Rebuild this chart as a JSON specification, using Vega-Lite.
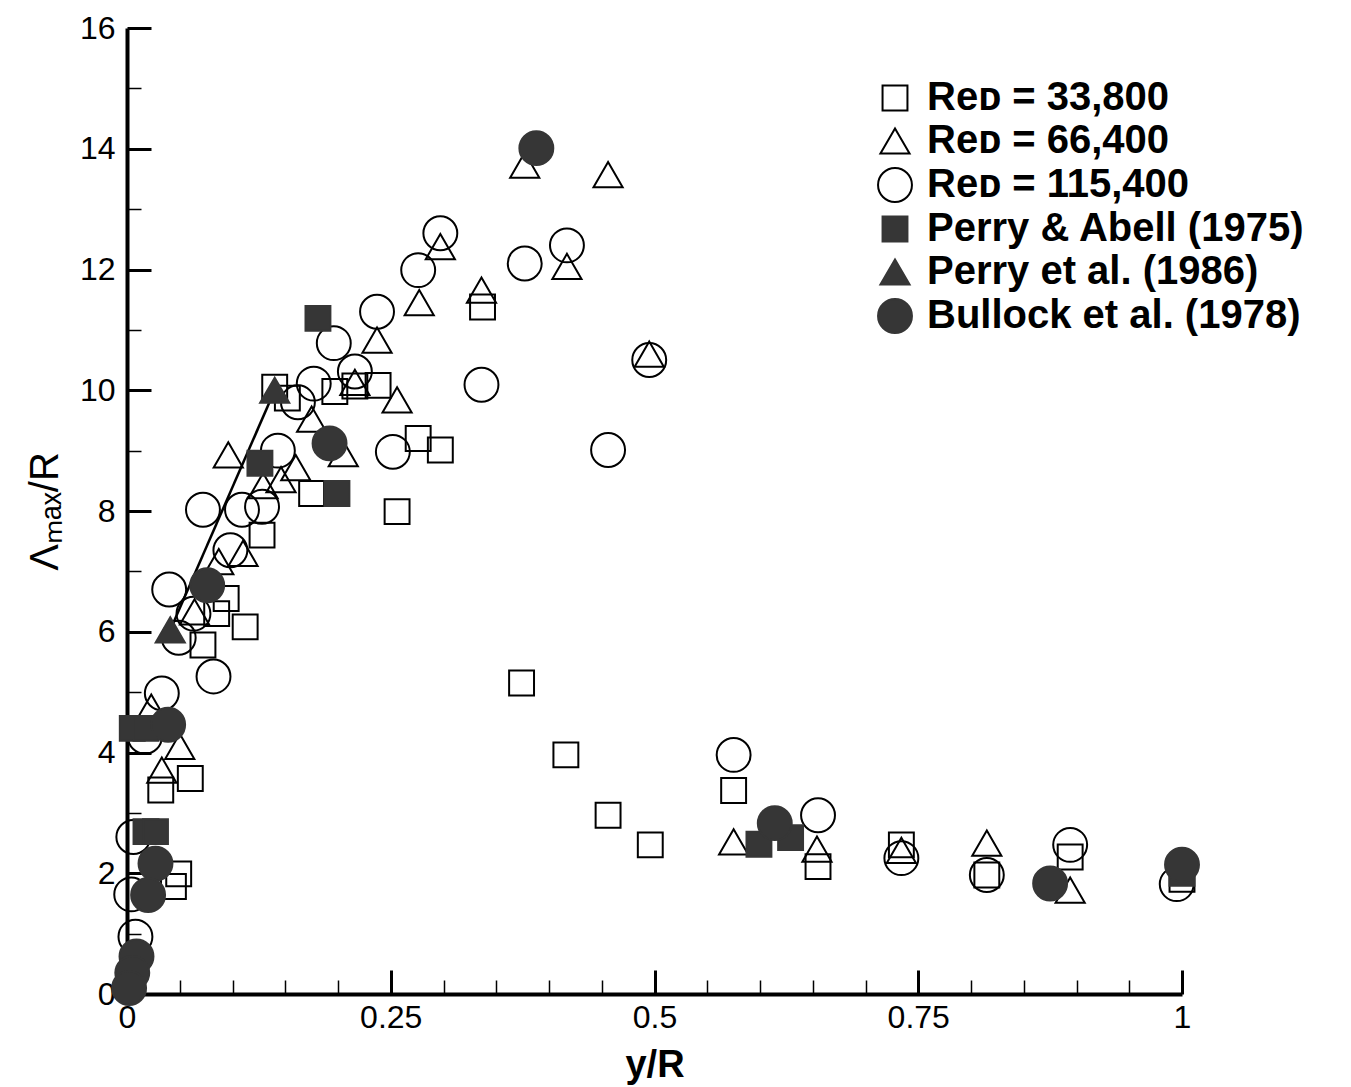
{
  "$schema": "https://vega.github.io/schema/vega-lite/v6.json",
  "width": 1055,
  "height": 966,
  "autosize": {"type": "none"},
  "padding": {"left": 127, "top": 28, "right": 169, "bottom": 93},
  "background": "white",
  "config": {"view": {"stroke": null}, "font": "Liberation Sans"},
  "datasets": {
    "fit": [{"x": 0.041, "y": 6.03}, {"x": 0.14, "y": 10.0}],
    "points": [
      {"x": 0.032, "y": 3.38, "s": "Reᴅ = 33,800"},
      {"x": 0.060, "y": 3.57, "s": "Reᴅ = 33,800"},
      {"x": 0.049, "y": 1.99, "s": "Reᴅ = 33,800"},
      {"x": 0.044, "y": 1.78, "s": "Reᴅ = 33,800"},
      {"x": 0.072, "y": 5.78, "s": "Reᴅ = 33,800"},
      {"x": 0.085, "y": 6.30, "s": "Reᴅ = 33,800"},
      {"x": 0.094, "y": 6.55, "s": "Reᴅ = 33,800"},
      {"x": 0.112, "y": 6.08, "s": "Reᴅ = 33,800"},
      {"x": 0.128, "y": 7.60, "s": "Reᴅ = 33,800"},
      {"x": 0.140, "y": 10.05, "s": "Reᴅ = 33,800"},
      {"x": 0.152, "y": 9.87, "s": "Reᴅ = 33,800"},
      {"x": 0.175, "y": 8.29, "s": "Reᴅ = 33,800"},
      {"x": 0.197, "y": 9.98, "s": "Reᴅ = 33,800"},
      {"x": 0.216, "y": 10.07, "s": "Reᴅ = 33,800"},
      {"x": 0.238, "y": 10.08, "s": "Reᴅ = 33,800"},
      {"x": 0.256, "y": 7.99, "s": "Reᴅ = 33,800"},
      {"x": 0.276, "y": 9.20, "s": "Reᴅ = 33,800"},
      {"x": 0.297, "y": 9.01, "s": "Reᴅ = 33,800"},
      {"x": 0.337, "y": 11.38, "s": "Reᴅ = 33,800"},
      {"x": 0.374, "y": 5.15, "s": "Reᴅ = 33,800"},
      {"x": 0.416, "y": 3.96, "s": "Reᴅ = 33,800"},
      {"x": 0.456, "y": 2.96, "s": "Reᴅ = 33,800"},
      {"x": 0.496, "y": 2.47, "s": "Reᴅ = 33,800"},
      {"x": 0.575, "y": 3.37, "s": "Reᴅ = 33,800"},
      {"x": 0.655, "y": 2.11, "s": "Reᴅ = 33,800"},
      {"x": 0.734, "y": 2.47, "s": "Reᴅ = 33,800"},
      {"x": 0.815, "y": 1.97, "s": "Reᴅ = 33,800"},
      {"x": 0.894, "y": 2.27, "s": "Reᴅ = 33,800"},
      {"x": 1.0, "y": 1.90, "s": "Reᴅ = 33,800"},

      {"x": 0.023, "y": 4.75, "s": "Reᴅ = 66,400"},
      {"x": 0.033, "y": 3.71, "s": "Reᴅ = 66,400"},
      {"x": 0.050, "y": 4.10, "s": "Reᴅ = 66,400"},
      {"x": 0.064, "y": 6.33, "s": "Reᴅ = 66,400"},
      {"x": 0.087, "y": 7.16, "s": "Reᴅ = 66,400"},
      {"x": 0.110, "y": 7.30, "s": "Reᴅ = 66,400"},
      {"x": 0.096, "y": 8.93, "s": "Reᴅ = 66,400"},
      {"x": 0.129, "y": 8.42, "s": "Reᴅ = 66,400"},
      {"x": 0.146, "y": 8.52, "s": "Reᴅ = 66,400"},
      {"x": 0.160, "y": 8.72, "s": "Reᴅ = 66,400"},
      {"x": 0.175, "y": 9.52, "s": "Reᴅ = 66,400"},
      {"x": 0.205, "y": 8.95, "s": "Reᴅ = 66,400"},
      {"x": 0.216, "y": 10.13, "s": "Reᴅ = 66,400"},
      {"x": 0.237, "y": 10.83, "s": "Reᴅ = 66,400"},
      {"x": 0.256, "y": 9.84, "s": "Reᴅ = 66,400"},
      {"x": 0.277, "y": 11.45, "s": "Reᴅ = 66,400"},
      {"x": 0.297, "y": 12.38, "s": "Reᴅ = 66,400"},
      {"x": 0.336, "y": 11.66, "s": "Reᴅ = 66,400"},
      {"x": 0.377, "y": 13.73, "s": "Reᴅ = 66,400"},
      {"x": 0.417, "y": 12.05, "s": "Reᴅ = 66,400"},
      {"x": 0.456, "y": 13.57, "s": "Reᴅ = 66,400"},
      {"x": 0.495, "y": 10.60, "s": "Reᴅ = 66,400"},
      {"x": 0.575, "y": 2.52, "s": "Reᴅ = 66,400"},
      {"x": 0.654, "y": 2.40, "s": "Reᴅ = 66,400"},
      {"x": 0.734, "y": 2.38, "s": "Reᴅ = 66,400"},
      {"x": 0.815, "y": 2.50, "s": "Reᴅ = 66,400"},
      {"x": 0.894, "y": 1.72, "s": "Reᴅ = 66,400"},

      {"x": 0.008, "y": 0.95, "s": "Reᴅ = 115,400"},
      {"x": 0.004, "y": 1.65, "s": "Reᴅ = 115,400"},
      {"x": 0.006, "y": 2.60, "s": "Reᴅ = 115,400"},
      {"x": 0.017, "y": 4.26, "s": "Reᴅ = 115,400"},
      {"x": 0.033, "y": 4.98, "s": "Reᴅ = 115,400"},
      {"x": 0.082, "y": 5.26, "s": "Reᴅ = 115,400"},
      {"x": 0.049, "y": 5.90, "s": "Reᴅ = 115,400"},
      {"x": 0.063, "y": 6.30, "s": "Reᴅ = 115,400"},
      {"x": 0.040, "y": 6.70, "s": "Reᴅ = 115,400"},
      {"x": 0.072, "y": 8.02, "s": "Reᴅ = 115,400"},
      {"x": 0.098, "y": 7.35, "s": "Reᴅ = 115,400"},
      {"x": 0.109, "y": 8.02, "s": "Reᴅ = 115,400"},
      {"x": 0.128, "y": 8.07, "s": "Reᴅ = 115,400"},
      {"x": 0.143, "y": 9.00, "s": "Reᴅ = 115,400"},
      {"x": 0.162, "y": 9.80, "s": "Reᴅ = 115,400"},
      {"x": 0.177, "y": 10.11, "s": "Reᴅ = 115,400"},
      {"x": 0.196, "y": 10.78, "s": "Reᴅ = 115,400"},
      {"x": 0.216, "y": 10.31, "s": "Reᴅ = 115,400"},
      {"x": 0.237, "y": 11.30, "s": "Reᴅ = 115,400"},
      {"x": 0.252, "y": 8.98, "s": "Reᴅ = 115,400"},
      {"x": 0.276, "y": 11.99, "s": "Reᴅ = 115,400"},
      {"x": 0.297, "y": 12.60, "s": "Reᴅ = 115,400"},
      {"x": 0.336, "y": 10.09, "s": "Reᴅ = 115,400"},
      {"x": 0.377, "y": 12.10, "s": "Reᴅ = 115,400"},
      {"x": 0.417, "y": 12.40, "s": "Reᴅ = 115,400"},
      {"x": 0.456, "y": 9.01, "s": "Reᴅ = 115,400"},
      {"x": 0.495, "y": 10.50, "s": "Reᴅ = 115,400"},
      {"x": 0.575, "y": 3.96, "s": "Reᴅ = 115,400"},
      {"x": 0.655, "y": 2.96, "s": "Reᴅ = 115,400"},
      {"x": 0.734, "y": 2.25, "s": "Reᴅ = 115,400"},
      {"x": 0.815, "y": 1.97, "s": "Reᴅ = 115,400"},
      {"x": 0.894, "y": 2.47, "s": "Reᴅ = 115,400"},
      {"x": 0.995, "y": 1.82, "s": "Reᴅ = 115,400"},

      {"x": 0.005, "y": 4.40, "s": "Perry & Abell (1975)"},
      {"x": 0.018, "y": 4.40, "s": "Perry & Abell (1975)"},
      {"x": 0.018, "y": 2.69, "s": "Perry & Abell (1975)"},
      {"x": 0.027, "y": 2.69, "s": "Perry & Abell (1975)"},
      {"x": 0.126, "y": 8.79, "s": "Perry & Abell (1975)"},
      {"x": 0.181, "y": 11.19, "s": "Perry & Abell (1975)"},
      {"x": 0.199, "y": 8.29, "s": "Perry & Abell (1975)"},
      {"x": 0.599, "y": 2.48, "s": "Perry & Abell (1975)"},
      {"x": 0.629, "y": 2.59, "s": "Perry & Abell (1975)"},
      {"x": 1.0, "y": 2.00, "s": "Perry & Abell (1975)"},

      {"x": 0.041, "y": 6.03, "s": "Perry et al. (1986)"},
      {"x": 0.140, "y": 10.00, "s": "Perry et al. (1986)"},

      {"x": 0.388, "y": 14.01, "s": "Bullock et al. (1978)"},
      {"x": 0.192, "y": 9.12, "s": "Bullock et al. (1978)"},
      {"x": 0.076, "y": 6.77, "s": "Bullock et al. (1978)"},
      {"x": 0.039, "y": 4.46, "s": "Bullock et al. (1978)"},
      {"x": 0.027, "y": 2.16, "s": "Bullock et al. (1978)"},
      {"x": 0.020, "y": 1.64, "s": "Bullock et al. (1978)"},
      {"x": 0.009, "y": 0.62, "s": "Bullock et al. (1978)"},
      {"x": 0.005, "y": 0.35, "s": "Bullock et al. (1978)"},
      {"x": 0.002, "y": 0.10, "s": "Bullock et al. (1978)"},
      {"x": 0.614, "y": 2.83, "s": "Bullock et al. (1978)"},
      {"x": 0.875, "y": 1.83, "s": "Bullock et al. (1978)"},
      {"x": 1.0, "y": 2.14, "s": "Bullock et al. (1978)"}
    ]
  },
  "encoding": {
    "x": {
      "field": "x", "type": "quantitative",
      "scale": {"domain": [0, 1], "nice": false, "zero": false},
      "axis": {
        "title": "y/R",
        "titleFont": "Liberation Sans", "titleFontSize": 38, "titleFontWeight": "bold", "titleColor": "black", "titlePadding": 3,
        "values": [0, 0.05, 0.1, 0.15, 0.2, 0.25, 0.3, 0.35, 0.4, 0.45, 0.5, 0.55, 0.6, 0.65, 0.7, 0.75, 0.8, 0.85, 0.9, 0.95, 1],
        "labelExpr": "abs(datum.value*4 - round(datum.value*4)) < 1e-6 ? ('' + datum.value) : ''",
        "labelFont": "Liberation Sans", "labelFontSize": 32, "labelColor": "black", "labelPadding": 32,
        "labelFlush": false, "labelOverlap": false,
        "grid": false,
        "domainColor": "black", "domainWidth": 4,
        "tickColor": "black",
        "tickSize": {"condition": {"test": "abs(datum.value*4 - round(datum.value*4)) < 1e-6", "value": -24}, "value": -14},
        "tickWidth": {"condition": {"test": "abs(datum.value*4 - round(datum.value*4)) < 1e-6", "value": 3}, "value": 1.5}
      }
    },
    "y": {
      "field": "y", "type": "quantitative",
      "scale": {"domain": [0, 16], "nice": false},
      "axis": {
        "title": "Λₘₐₓ/R",
        "titleFont": "Liberation Sans", "titleFontSize": 40, "titleFontWeight": "normal", "titleColor": "black", "titlePadding": 14,
        "values": [0, 1, 2, 3, 4, 5, 6, 7, 8, 9, 10, 11, 12, 13, 14, 15, 16],
        "labelExpr": "datum.value % 2 == 0 ? ('' + datum.value) : ''",
        "labelFont": "Liberation Sans", "labelFontSize": 32, "labelColor": "black", "labelPadding": 36,
        "labelFlush": false, "labelOverlap": false,
        "grid": false,
        "domainColor": "black", "domainWidth": 4,
        "tickColor": "black",
        "tickSize": {"condition": {"test": "datum.value % 2 == 0", "value": -24}, "value": -14},
        "tickWidth": {"condition": {"test": "datum.value % 2 == 0", "value": 3}, "value": 1.5}
      }
    }
  },
  "layer": [
    {
      "data": {"name": "fit"},
      "mark": {"type": "line", "color": "black", "strokeWidth": 2.5}
    },
    {
      "data": {"name": "points"},
      "mark": {"type": "point", "filled": true, "strokeWidth": 2, "opacity": 1},
      "encoding": {
        "shape": {
          "field": "s", "type": "nominal",
          "scale": {"domain": ["Reᴅ = 33,800", "Reᴅ = 66,400", "Reᴅ = 115,400", "Perry & Abell (1975)", "Perry et al. (1986)", "Bullock et al. (1978)"],
                    "range": ["square", "triangle-up", "circle", "square", "triangle-up", "circle"]},
          "legend": {"title": null, "orient": "none", "legendX": 748, "legendY": 50, "labelFont": "Liberation Sans", "labelFontSize": 40, "labelFontWeight": "bold", "labelColor": "black", "labelOffset": 12, "labelLimit": 700, "rowPadding": 3, "padding": 0, "symbolStrokeWidth": 2}
        },
        "fill": {
          "field": "s", "type": "nominal",
          "scale": {"domain": ["Reᴅ = 33,800", "Reᴅ = 66,400", "Reᴅ = 115,400", "Perry & Abell (1975)", "Perry et al. (1986)", "Bullock et al. (1978)"],
                    "range": ["transparent", "transparent", "transparent", "#363636", "#363636", "#363636"]},
          "legend": {"title": null, "orient": "none", "legendX": 748, "legendY": 50, "labelFont": "Liberation Sans", "labelFontSize": 40, "labelFontWeight": "bold", "labelColor": "black", "labelOffset": 12, "labelLimit": 700, "rowPadding": 3, "padding": 0, "symbolStrokeWidth": 2}
        },
        "stroke": {
          "field": "s", "type": "nominal",
          "scale": {"domain": ["Reᴅ = 33,800", "Reᴅ = 66,400", "Reᴅ = 115,400", "Perry & Abell (1975)", "Perry et al. (1986)", "Bullock et al. (1978)"],
                    "range": ["black", "black", "black", "#363636", "#363636", "#363636"]},
          "legend": {"title": null, "orient": "none", "legendX": 748, "legendY": 50, "labelFont": "Liberation Sans", "labelFontSize": 40, "labelFontWeight": "bold", "labelColor": "black", "labelOffset": 12, "labelLimit": 700, "rowPadding": 3, "padding": 0, "symbolStrokeWidth": 2}
        },
        "size": {
          "field": "s", "type": "nominal",
          "scale": {"type": "ordinal", "domain": ["Reᴅ = 33,800", "Reᴅ = 66,400", "Reᴅ = 115,400", "Perry & Abell (1975)", "Perry et al. (1986)", "Bullock et al. (1978)"],
                    "range": [620, 850, 1150, 620, 850, 1150]},
          "legend": {"title": null, "orient": "none", "legendX": 748, "legendY": 50, "labelFont": "Liberation Sans", "labelFontSize": 40, "labelFontWeight": "bold", "labelColor": "black", "labelOffset": 12, "labelLimit": 700, "rowPadding": 3, "padding": 0, "symbolStrokeWidth": 2}
        }
      }
    }
  ]
}
